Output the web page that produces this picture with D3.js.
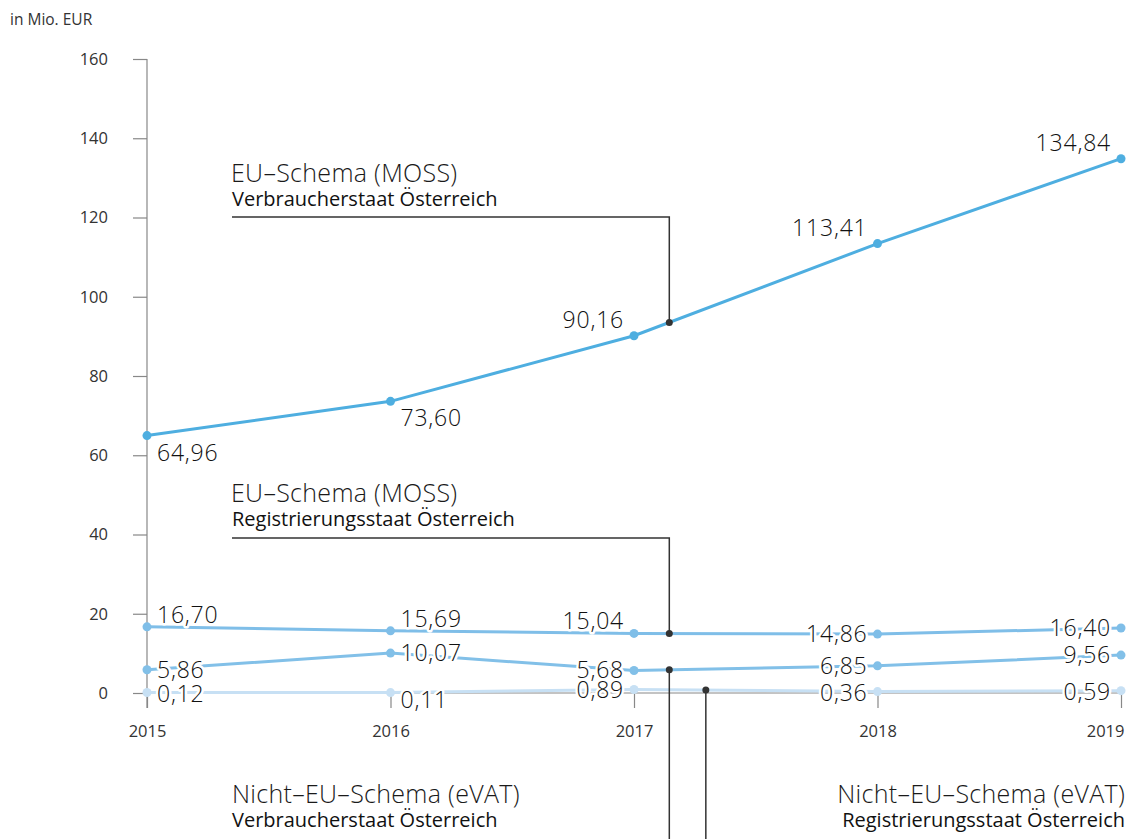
<!DOCTYPE html>
<html>
<head>
<meta charset="utf-8">
<script src="https://cdn.jsdelivr.net/npm/d3@7"></script>
<style>
  body { margin: 0; background: #fff; font-family: "Open Sans", "Noto Sans", sans-serif; }
  svg text { font-family: "Open Sans", "Noto Sans", sans-serif; }
  .tick text { font-size: 16.5px; fill: #333; }
  .val { font-size: 23px; fill: #111; letter-spacing: 0.8px; font-weight: 300;
         paint-order: stroke; stroke: #fff; stroke-width: 5px; stroke-linejoin: round; }
  .ann-title { font-size: 25px; fill: #1a1a1a; font-weight: 300; letter-spacing: 0.3px; }
  .ann-sub { font-size: 20px; fill: #111; }
</style>
</head>
<body>
<svg id="chart" width="1127" height="839"></svg>
<script>
// chart data
const years = [2015, 2016, 2017, 2018, 2019];
const mossConsumer = [64.96, 73.60, 90.16, 113.41, 134.84];
const mossRegister = [16.70, 15.69, 15.04, 14.86, 16.40];
const evatConsumer = [5.86, 10.07, 5.68, 6.85, 9.56];
const evatRegister = [0.12, 0.11, 0.89, 0.36, 0.59];
const yTicks = [0, 20, 40, 60, 80, 100, 120, 140, 160];

const seriesList = [
    { name: 'evatRegister', values: evatRegister, color: '#c7e0f4' },
    { name: 'evatConsumer', values: evatConsumer, color: '#82c0e8' },
    { name: 'mossRegister', values: mossRegister, color: '#7fbee8' },
    { name: 'mossConsumer', values: mossConsumer, color: '#4eaee0' }
];

const svg = d3.select('#chart');

const x = d3.scaleLinear().domain([2015, 2019]).range([147, 1121]);
const y = d3.scaleLinear().domain([0, 160]).range([693, 59]);

// unit label
svg.append('text')
    .attr('x', 10).attr('y', 25)
    .style('font-size', '15.5px').style('fill', '#333')
    .text('in Mio. EUR');

// y axis
const yAxis = svg.append('g')
    .attr('transform', 'translate(147,0)')
    .call(d3.axisLeft(y).tickValues(yTicks).tickSize(14).tickPadding(25));
yAxis.select('.domain').remove();
yAxis.selectAll('.tick line').attr('stroke', '#888').attr('stroke-width', 1.2);
svg.append('line')
    .attr('x1', 147).attr('x2', 147)
    .attr('y1', y(160)).attr('y2', y(0) + 15)
    .attr('stroke', '#888').attr('stroke-width', 1.2);

// x axis
const xAxis = svg.append('g')
    .attr('transform', `translate(0,${y(0)})`)
    .call(d3.axisBottom(x).tickValues(years).tickFormat(d3.format('d')).tickSize(15).tickPadding(17));
xAxis.select('.domain').attr('stroke', '#888').attr('stroke-width', 1.2).attr('d', `M${x(2015)},0H${x(2019)}`);
xAxis.selectAll('.tick line').attr('stroke', '#888').attr('stroke-width', 1.2);
// last year label sits flush with the right edge
xAxis.selectAll('.tick text').filter(d => d === 2019).attr('text-anchor', 'end').attr('dx', 3);

// lines
const line = d3.line()
    .x((d, i) => x(years[i]))
    .y(d => y(d));

seriesList.forEach(s => {
    svg.append('path')
        .datum(s.values)
        .attr('fill', 'none')
        .attr('stroke', s.color)
        .attr('stroke-width', 3)
        .attr('d', line);
});

// value labels (drawn with white halo so they cut through the lines)
const fmt = v => d3.format('.2f')(v).replace('.', ',');
const labelShift = {
    mossConsumer: i => i < 2 ? 25 : -8,
    mossRegister: i => i < 3 ? -4 : 8,
    evatConsumer: i => 8,
    evatRegister: i => i === 1 ? 15 : 9
};

seriesList.forEach(s => {
    svg.selectAll(null)
        .data(s.values)
        .enter()
        .append('text')
        .attr('class', 'val')
        .attr('x', (d, i) => i < 2 ? x(years[i]) + 10 : x(years[i]) - 10)
        .attr('y', (d, i) => y(d) + labelShift[s.name](i))
        .attr('text-anchor', (d, i) => i < 2 ? 'start' : 'end')
        .text(d => fmt(d));
});

// dots
seriesList.forEach(s => {
    svg.selectAll(null)
        .data(s.values)
        .enter()
        .append('circle')
        .attr('cx', (d, i) => x(years[i]))
        .attr('cy', d => y(d))
        .attr('r', 4.5)
        .attr('fill', s.color);
});

// value on a series at a fractional year
function valueAt(values, yr) {
    const i = Math.min(Math.floor(yr - 2015), values.length - 2);
    const t = yr - 2015 - i;
    return values[i] + (values[i + 1] - values[i]) * t;
}

// callouts
const annColor = '#333';
const callouts = [
    { values: mossConsumer, yr: 2017.145, title: 'EU–Schema (MOSS)', sub: 'Verbraucherstaat Österreich', labelY: 182, elbowY: 217, side: 'top' },
    { values: mossRegister, yr: 2017.145, title: 'EU–Schema (MOSS)', sub: 'Registrierungsstaat Österreich', labelY: 502, elbowY: 538, side: 'top' },
    { values: evatConsumer, yr: 2017.145, title: 'Nicht–EU–Schema (eVAT)', sub: 'Verbraucherstaat Österreich', labelY: 803, side: 'bottom', anchor: 'start' },
    { values: evatRegister, yr: 2017.295, title: 'Nicht–EU–Schema (eVAT)', sub: 'Registrierungsstaat Österreich', labelY: 803, side: 'bottom', anchor: 'end' }
];

callouts.forEach(c => {
    const px = x(c.yr);
    const py = y(valueAt(c.values, c.yr));
    if (c.side === 'top') {
        svg.append('path')
            .attr('d', `M232,${c.elbowY}H${px}V${py}`)
            .attr('fill', 'none')
            .attr('stroke', annColor)
            .attr('stroke-width', 1.5);
        svg.append('text').attr('class', 'ann-title').attr('x', 231).attr('y', c.labelY).text(c.title);
        svg.append('text').attr('class', 'ann-sub').attr('x', 232).attr('y', c.labelY + 24).text(c.sub);
    } else {
        svg.append('line')
            .attr('x1', px).attr('x2', px)
            .attr('y1', py).attr('y2', 839)
            .attr('stroke', annColor)
            .attr('stroke-width', 1.5);
        const tx = c.anchor === 'start' ? 232 : 1125;
        svg.append('text').attr('class', 'ann-title').attr('x', tx).attr('y', c.labelY)
            .attr('text-anchor', c.anchor).text(c.title);
        svg.append('text').attr('class', 'ann-sub').attr('x', tx).attr('y', c.labelY + 24)
            .attr('text-anchor', c.anchor).text(c.sub);
    }
    svg.append('circle')
        .attr('cx', px).attr('cy', py)
        .attr('r', 3.5)
        .attr('fill', annColor);
});
</script>
</body>
</html>
